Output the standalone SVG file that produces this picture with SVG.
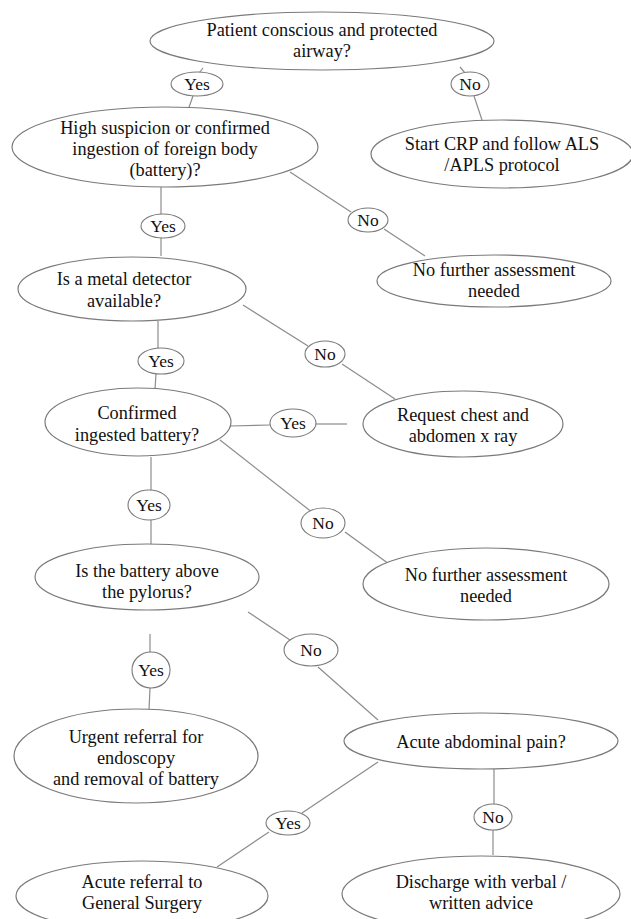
<svg xmlns="http://www.w3.org/2000/svg" width="631" height="919" viewBox="0 0 631 919">
<style>
.n ellipse{fill:#fff;stroke:#7a7a7a;stroke-width:1.2}
.l ellipse{fill:#fff;stroke:#7a7a7a;stroke-width:1.1}
text{font-family:"Liberation Serif","Times New Roman",serif;font-size:18.3px;fill:#111;text-anchor:middle}
.l text{font-size:17.5px}
#connectors line{stroke:#8c8c8c;stroke-width:1.2}
</style>
<rect width="631" height="919" fill="#fff"/>
<g id="connectors">
<line x1="203" y1="68" x2="199" y2="73"/>
<line x1="193" y1="96" x2="188" y2="110"/>
<line x1="460" y1="67" x2="465" y2="73"/>
<line x1="474" y1="96" x2="482" y2="120"/>
<line x1="161" y1="187" x2="161" y2="214"/>
<line x1="161" y1="238" x2="161" y2="256"/>
<line x1="290" y1="172" x2="351" y2="212"/>
<line x1="384" y1="229" x2="425" y2="256"/>
<line x1="243" y1="305" x2="308" y2="346"/>
<line x1="342" y1="364" x2="395" y2="399"/>
<line x1="158" y1="321" x2="158" y2="348"/>
<line x1="156" y1="374" x2="155" y2="389"/>
<line x1="230" y1="426" x2="270" y2="425"/>
<line x1="316" y1="424" x2="347" y2="424"/>
<line x1="220" y1="440" x2="313" y2="513"/>
<line x1="345" y1="532" x2="400" y2="572"/>
<line x1="151" y1="457" x2="151" y2="490"/>
<line x1="151" y1="520" x2="151" y2="546"/>
<line x1="248" y1="612" x2="293" y2="642"/>
<line x1="318" y1="667" x2="378" y2="720"/>
<line x1="150" y1="634" x2="150" y2="652"/>
<line x1="150" y1="688" x2="149" y2="710"/>
<line x1="378" y1="762" x2="302" y2="813"/>
<line x1="269" y1="832" x2="217" y2="867"/>
<line x1="494" y1="769" x2="494" y2="805"/>
<line x1="493" y1="830" x2="493" y2="855"/>
</g>
<g id="n1" class="n"><ellipse cx="322" cy="41" rx="172" ry="29"/><text x="322" y="36">Patient conscious and protected</text><text x="322" y="57">airway?</text></g>
<g id="n2" class="n"><ellipse cx="165" cy="147" rx="153" ry="40"/><text x="165" y="134">High suspicion or confirmed</text><text x="165" y="155">ingestion of foreign body</text><text x="165" y="176">(battery)?</text></g>
<g id="n3" class="n"><ellipse cx="502" cy="154" rx="131" ry="34"/><text x="502" y="150">Start CRP and follow ALS</text><text x="502" y="171">/APLS protocol</text></g>
<g id="n4" class="n"><ellipse cx="494" cy="281" rx="117" ry="26"/><text x="494" y="276">No further assessment</text><text x="494" y="297">needed</text></g>
<g id="n5" class="n"><ellipse cx="132" cy="289" rx="114" ry="32"/><text x="124" y="285">Is a metal detector</text><text x="124" y="307">available?</text></g>
<g id="n6" class="n"><ellipse cx="138" cy="422" rx="93" ry="34"/><text x="137" y="419">Confirmed</text><text x="137" y="441">ingested battery?</text></g>
<g id="n7" class="n"><ellipse cx="463" cy="424" rx="100" ry="33"/><text x="463" y="421">Request chest and</text><text x="463" y="442">abdomen x ray</text></g>
<g id="n8" class="n"><ellipse cx="486" cy="584" rx="123" ry="36"/><text x="486" y="581">No further assessment</text><text x="486" y="602">needed</text></g>
<g id="n9" class="n"><ellipse cx="147" cy="577" rx="112" ry="33"/><text x="147" y="577">Is the battery above</text><text x="147" y="598">the pylorus?</text></g>
<g id="n10" class="n"><ellipse cx="136" cy="756" rx="122" ry="47"/><text x="136" y="743">Urgent referral for</text><text x="136" y="764">endoscopy</text><text x="136" y="785">and removal of battery</text></g>
<g id="n11" class="n"><ellipse cx="481" cy="741" rx="137" ry="28"/><text x="481" y="748">Acute abdominal pain?</text></g>
<g id="n12" class="n"><ellipse cx="142" cy="896" rx="126" ry="35"/><text x="142" y="888">Acute referral to</text><text x="142" y="909">General Surgery</text></g>
<g id="n13" class="n"><ellipse cx="481" cy="894" rx="139" ry="38"/><text x="481" y="888">Discharge with verbal /</text><text x="481" y="909">written advice</text></g>
<g id="l1" class="l"><ellipse cx="197" cy="84" rx="26" ry="12"/><text x="197" y="90">Yes</text></g>
<g id="l2" class="l"><ellipse cx="470" cy="84" rx="19" ry="12"/><text x="470" y="90">No</text></g>
<g id="l3" class="l"><ellipse cx="163" cy="226" rx="22" ry="12"/><text x="163" y="232">Yes</text></g>
<g id="l4" class="l"><ellipse cx="368" cy="220" rx="20" ry="12"/><text x="368" y="226">No</text></g>
<g id="l5" class="l"><ellipse cx="325" cy="354" rx="20" ry="13"/><text x="325" y="360">No</text></g>
<g id="l6" class="l"><ellipse cx="161" cy="361" rx="23" ry="13"/><text x="161" y="367">Yes</text></g>
<g id="l7" class="l"><ellipse cx="293" cy="423" rx="23" ry="14"/><text x="293" y="429">Yes</text></g>
<g id="l8" class="l"><ellipse cx="323" cy="523" rx="22" ry="15"/><text x="323" y="529">No</text></g>
<g id="l9" class="l"><ellipse cx="149" cy="505" rx="21" ry="15"/><text x="149" y="511">Yes</text></g>
<g id="l10" class="l"><ellipse cx="311" cy="650" rx="27" ry="16"/><text x="311" y="656">No</text></g>
<g id="l11" class="l"><ellipse cx="151" cy="670" rx="19" ry="18"/><text x="151" y="676">Yes</text></g>
<g id="l12" class="l"><ellipse cx="288" cy="823" rx="22" ry="12"/><text x="288" y="829">Yes</text></g>
<g id="l13" class="l"><ellipse cx="493" cy="817" rx="19" ry="13"/><text x="493" y="823">No</text></g>
</svg>
